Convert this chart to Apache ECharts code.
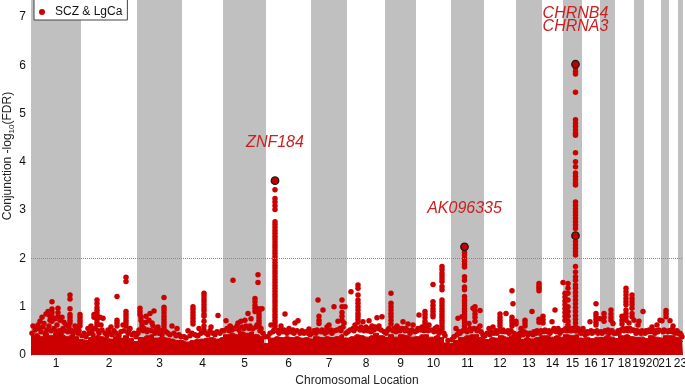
<!DOCTYPE html>
<html lang="en">
<head>
    <meta charset="UTF-8">
    <title>Conjunction Manhattan plot</title>
    <style type="text/css">
        * { margin: 0; padding: 0; }
        html, body { width: 100%; height: 100%; background: #fff; }
        #main { width: 685px; height: 384px; }
    </style>
</head>
<body>
<div id="main"></div>
<script src="https://cdn.jsdelivr.net/npm/echarts@6/dist/echarts.min.js"></script>
<script>
    var myChart = echarts.init(document.getElementById('main'));

    // chromosome widths on the genome axis (plot units)
    const chrLabels = ['1', '2', '3', '4', '5', '6', '7', '8', '9', '10', '11', '12',
        '13', '14', '15', '16', '17', '18', '19', '20', '21', '22', '23'];
    const chrLen = [50, 56, 45, 41, 43, 45, 36, 38, 31, 35, 33, 32, 26, 21, 19, 18, 15, 19, 10, 17, 8, 9, 5];

    const yTicks = [0, 1, 2, 3, 4, 5, 6, 7];
    const fdrLine = 2;

    // dense background of SNPs: top of the solid red band
    const floorPos = [0, 5, 10, 15, 20, 25, 30, 35, 40, 45, 50, 55, 60, 65, 70, 75, 80, 85, 90, 95, 100,
        105, 110, 115, 120, 125, 130, 135, 140, 145, 150, 155, 160, 165, 170, 175, 180, 185, 190, 195, 200,
        205, 210, 215, 220, 225, 230, 235, 240, 245, 250, 255, 260, 265, 270, 275, 280, 285, 290, 295, 300,
        305, 310, 315, 320, 325, 330, 335, 340, 345, 350, 355, 360, 365, 370, 375, 380, 385, 390, 395, 400,
        405, 410, 415, 420, 425, 430, 435, 440, 445, 450, 455, 460, 465, 470, 475, 480, 485, 490, 495, 500,
        505, 510, 515, 520, 525, 530, 535, 540, 545, 550, 555, 560, 565, 570, 575, 580, 585, 590, 595, 600,
        605, 610, 615, 620, 625, 630, 635, 640, 645, 650, 652];
    const floorVal = [0.4, 0.42, 0.38, 0.45, 0.4, 0.45, 0.42, 0.38, 0.42, 0.38, 0.32, 0.3, 0.36, 0.4, 0.38, 0.34, 0.33, 0.38, 0.35, 0.4, 0.34,
        0.28, 0.36, 0.4, 0.42, 0.35, 0.38, 0.35, 0.33, 0.3, 0.3, 0.27, 0.3, 0.32, 0.33, 0.35, 0.36, 0.33, 0.36, 0.42, 0.45,
        0.42, 0.48, 0.45, 0.48, 0.42, 0.38, 0.24, 0.35, 0.38, 0.36, 0.38, 0.36, 0.38, 0.35, 0.36, 0.33, 0.38, 0.36, 0.38, 0.36,
        0.38, 0.42, 0.35, 0.38, 0.42, 0.4, 0.37, 0.4, 0.45, 0.4, 0.36, 0.42, 0.37, 0.42, 0.4, 0.37, 0.38, 0.42, 0.42, 0.37,
        0.4, 0.36, 0.25, 0.24, 0.3, 0.36, 0.4, 0.42, 0.42, 0.36, 0.32, 0.36, 0.35, 0.4, 0.37, 0.4, 0.34, 0.32, 0.36, 0.33,
        0.36, 0.4, 0.4, 0.37, 0.4, 0.37, 0.42, 0.4, 0.42, 0.35, 0.37, 0.34, 0.37, 0.36, 0.4, 0.37, 0.34, 0.4, 0.42, 0.38,
        0.36, 0.37, 0.34, 0.4, 0.37, 0.35, 0.4, 0.4, 0.37, 0.33, 0.28];

    // SNPs fringing the top of the band: [position, value]
    const bandTop = [
        [1, 0.45], [4, 0.52], [6, 0.4], [8, 0.55], [10, 0.48], [12, 0.58], [14, 0.45], [16, 0.52], [18, 0.6], [20, 0.5],
        [23, 0.55], [25, 0.48], [26, 0.62], [28, 0.5], [30, 0.45], [32, 0.55], [34, 0.5], [37, 0.48], [38, 0.58], [41, 0.5],
        [42, 0.45], [45, 0.52], [47, 0.45], [48, 0.5],
        [51, 0.4], [53, 0.45], [55, 0.38], [58, 0.45], [61, 0.5], [62, 0.42], [64, 0.55], [67, 0.5], [68, 0.45], [71, 0.52],
        [74, 0.45], [76, 0.4], [78, 0.48], [81, 0.42], [83, 0.5], [85, 0.45], [88, 0.4], [90, 0.48], [93, 0.5], [97, 0.45],
        [98, 0.52], [101, 0.42], [103, 0.45], [105, 0.38],
        [107, 0.45], [108, 0.52], [112, 0.5], [113, 0.55], [116, 0.48], [117, 0.52], [120, 0.5], [124, 0.45], [125, 0.52],
        [128, 0.45], [130, 0.5], [131, 0.42], [135, 0.48], [137, 0.45], [139, 0.42], [143, 0.45], [145, 0.4], [148, 0.42],
        [150, 0.38],
        [153, 0.38], [155, 0.35], [159, 0.4], [161, 0.45], [164, 0.42], [167, 0.4], [170, 0.45], [172, 0.48], [175, 0.45],
        [177, 0.42], [179, 0.5], [182, 0.45], [184, 0.42], [186, 0.48], [189, 0.45], [191, 0.5],
        [193, 0.5], [196, 0.55], [198, 0.5], [200, 0.58], [201, 0.52], [204, 0.55], [206, 0.6], [208, 0.52], [211, 0.58],
        [213, 0.55], [215, 0.6], [218, 0.55], [219, 0.6], [222, 0.55], [225, 0.58], [229, 0.5], [230, 0.55], [232, 0.45],
        [234, 0.38],
        [237, 0.38], [239, 0.45], [242, 0.48], [243, 0.52], [246, 0.5], [248, 0.45], [249, 0.52], [252, 0.48], [253, 0.52],
        [256, 0.45], [257, 0.5], [260, 0.48], [262, 0.52], [263, 0.45], [266, 0.5], [269, 0.45], [271, 0.5], [273, 0.45],
        [275, 0.48], [277, 0.45], [279, 0.42],
        [281, 0.45], [283, 0.5], [285, 0.45], [286, 0.52], [290, 0.48], [291, 0.52], [294, 0.45], [295, 0.5], [297, 0.48],
        [300, 0.52], [301, 0.45], [304, 0.5], [306, 0.52], [309, 0.55], [310, 0.5], [312, 0.58], [315, 0.45],
        [317, 0.48], [319, 0.52], [322, 0.55], [323, 0.5], [326, 0.55], [329, 0.52], [330, 0.58], [333, 0.5], [334, 0.55],
        [337, 0.5], [339, 0.55], [340, 0.48], [343, 0.52], [344, 0.58], [347, 0.55], [348, 0.6], [350, 0.52], [353, 0.48],
        [355, 0.45], [357, 0.52], [358, 0.55], [362, 0.5], [363, 0.55], [365, 0.48], [368, 0.55], [369, 0.5], [371, 0.55],
        [374, 0.5], [375, 0.55], [378, 0.5], [379, 0.45], [381, 0.52], [384, 0.48],
        [386, 0.5], [387, 0.55], [390, 0.52], [391, 0.58], [393, 0.5], [396, 0.55], [397, 0.5], [400, 0.52], [403, 0.48],
        [404, 0.55], [407, 0.5], [408, 0.45], [410, 0.5], [413, 0.45], [414, 0.4], [417, 0.3],
        [421, 0.32], [423, 0.38], [426, 0.42], [428, 0.48], [429, 0.45], [432, 0.5], [435, 0.52], [436, 0.48], [439, 0.55],
        [440, 0.5], [443, 0.55], [446, 0.5], [447, 0.55], [450, 0.48], [452, 0.42],
        [454, 0.4], [456, 0.45], [459, 0.42], [460, 0.48], [463, 0.45], [465, 0.5], [466, 0.45], [468, 0.5], [471, 0.48],
        [472, 0.52], [474, 0.48], [477, 0.5], [478, 0.45], [480, 0.5], [483, 0.45], [484, 0.4],
        [486, 0.42], [488, 0.38], [489, 0.45], [492, 0.42], [493, 0.48], [496, 0.45], [497, 0.42], [499, 0.45], [502, 0.42],
        [503, 0.48], [505, 0.45], [506, 0.5], [509, 0.45], [510, 0.5],
        [513, 0.48], [514, 0.52], [516, 0.48], [518, 0.5], [519, 0.45], [522, 0.5], [523, 0.55], [525, 0.48], [528, 0.5],
        [529, 0.45], [531, 0.5],
        [533, 0.52], [535, 0.55], [536, 0.5], [538, 0.55], [540, 0.5], [541, 0.55], [543, 0.52], [546, 0.5], [547, 0.55],
        [549, 0.48], [550, 0.45],
        [553, 0.45], [554, 0.42], [556, 0.48], [557, 0.45], [560, 0.5], [561, 0.45], [563, 0.48], [566, 0.5], [567, 0.45],
        [570, 0.48], [571, 0.45], [574, 0.5], [575, 0.48], [577, 0.52], [578, 0.45], [581, 0.5], [583, 0.45],
        [585, 0.45], [587, 0.5], [588, 0.45], [590, 0.52], [592, 0.55], [593, 0.5], [596, 0.55], [597, 0.5], [599, 0.55],
        [600, 0.5], [602, 0.52],
        [604, 0.5], [605, 0.45], [606, 0.5], [609, 0.48], [610, 0.45], [611, 0.5], [614, 0.45], [615, 0.5], [617, 0.48],
        [618, 0.52], [620, 0.48], [622, 0.5], [624, 0.45], [625, 0.5], [627, 0.48], [628, 0.52], [632, 0.48], [633, 0.52],
        [634, 0.5], [637, 0.48], [638, 0.5], [640, 0.52], [641, 0.48], [643, 0.5], [644, 0.45], [646, 0.5], [647, 0.45],
        [649, 0.45], [650, 0.42], [651, 0.38]
    ];

    // SNPs standing out of the band: [position, [-log10 FDR values]]
    const snpColumns = [
        [2, [0.6]], [5, [0.55]], [7, [0.62]], [9, [0.7]], [11, [0.78]], [13, [0.65]], [15, [0.85]], [17, [0.9]],
        [19, [0.8, 0.72]], [21, [1.1, 0.95, 0.88, 0.8, 0.7]], [24, [0.75]], [27, [0.97, 0.88, 0.8]], [29, [0.72]],
        [31, [0.78]], [33, [0.68]], [35, [0.62]], [39, [1.24, 1.16, 0.96, 0.84, 0.78, 0.72, 0.66]], [44, [0.6]],
        [46, [0.58]], [49, [0.84, 0.78, 0.72, 0.66, 0.6]],
        [57, [0.55]], [60, [0.6]], [63, [0.84, 0.78]], [66, [1.14, 1.06, 0.98, 0.92, 0.86, 0.8, 0.74, 0.68, 0.62]],
        [69, [0.78]], [70, [0.62]], [72, [0.76]], [77, [0.52]], [80, [0.58]], [86, [1.21, 0.72, 0.66, 0.6]], [92, [0.62]],
        [95, [1.61, 1.52, 0.9, 0.84, 0.78, 0.72, 0.66, 0.6]], [99, [0.55]],
        [109, [0.97, 0.9, 0.84]], [110, [0.78, 0.72]], [111, [0.66, 0.6]], [115, [0.8, 0.68]], [118, [0.72]], [119, [0.86]],
        [121, [0.66]], [122, [0.6]], [123, [0.91]], [127, [0.58]], [133, [1.19, 0.99, 0.93, 0.87, 0.8, 0.74, 0.68, 0.62, 0.56]],
        [141, [0.6]], [146, [0.55]],
        [157, [0.5]], [162, [1.0, 0.94, 0.88, 0.82, 0.76, 0.7, 0.64]], [166, [0.4]], [168, [0.55]],
        [173, [1.28, 1.22, 1.16, 1.1, 1.04, 0.98, 0.92, 0.85, 0.8, 0.7, 0.6, 0.52]], [180, [0.58]], [187, [0.82]],
        [195, [0.71]], [199, [0.6]], [202, [1.55]], [207, [0.66]], [210, [0.7]], [214, [0.72]], [217, [0.86]], [220, [0.75]],
        [224, [1.17, 1.1, 1.03, 0.97, 0.9]], [226, [0.62]], [227, [1.66, 1.5]], [228, [0.96, 0.9, 0.84, 0.78, 0.72, 0.66, 0.6]],
        [231, [0.96]],
        [240, [0.62]],
        [244, [3.42, 3.24, 3.17, 3.09, 3.01, 2.76, 2.7, 2.64, 2.58, 2.52, 2.46, 2.4, 2.34, 2.28, 2.22, 2.16, 2.1, 2.04, 1.98,
            1.92, 1.86, 1.8, 1.74, 1.68, 1.62, 1.56, 1.5, 1.44, 1.38, 1.32, 1.26, 1.2, 1.14, 1.08, 1.02, 0.96, 0.9, 0.84,
            0.78, 0.72, 0.66, 0.6, 0.54]],
        [250, [0.6]], [254, [0.85]], [258, [0.55]], [264, [0.66]], [267, [0.71]], [278, [0.54]],
        [287, [1.14]], [288, [0.8, 0.72, 0.65]], [292, [0.93]], [296, [0.58]], [298, [0.62]], [303, [1.0]], [307, [0.7]],
        [311, [1.14, 1.0, 0.88, 0.8, 0.72]], [313, [0.66]], [314, [1.0]],
        [320, [1.31]], [324, [0.62]], [327, [1.45, 1.38, 1.24, 1.14, 1.07, 1.0, 0.93, 0.86, 0.8, 0.74, 0.68]], [332, [0.69]],
        [335, [0.58]], [338, [0.71]], [341, [0.6]], [346, [0.77]], [351, [0.79]],
        [360, [1.28, 1.07, 1.0, 0.93, 0.86, 0.79, 0.72, 0.64]], [366, [0.6]], [372, [0.69]], [377, [0.64]], [382, [0.62]],
        [388, [0.83]], [394, [0.9, 0.84, 0.77, 0.7, 0.64, 0.58]], [398, [0.62]], [402, [1.46, 1.1, 1.03, 0.96, 0.9, 0.84, 0.79]],
        [406, [0.58]],
        [411, [1.83, 1.77, 1.7, 1.64, 1.58, 1.52, 1.42, 1.35, 1.14, 1.08, 1.02, 0.96, 0.9, 0.84, 0.78, 0.72, 0.66, 0.6, 0.54]],
        [425, [0.55]], [427, [0.76]], [431, [0.79]],
        [433.5, [2.12, 2.07, 2.0, 1.94, 1.88, 1.82, 1.62, 1.55, 1.41, 1.35, 1.21, 1.14, 1.08, 1.02, 0.96, 0.9, 0.84, 0.78,
            0.72, 0.66, 0.6, 0.54]],
        [438, [0.65]], [442, [0.97]], [444, [1.0, 0.92, 0.85, 0.78, 0.7]], [449, [0.92, 0.6]],
        [458, [0.55]], [462, [0.58]], [469, [0.85, 0.78, 0.72, 0.66, 0.6]], [475, [0.86]], [481, [1.33, 0.78, 0.72, 0.66, 0.6]],
        [482, [1.06]], [485, [0.7, 0.64]],
        [490, [0.55]], [494, [0.72, 0.66, 0.6]], [501, [0.9]], [508, [1.48, 1.43, 1.38, 1.33, 0.74, 0.68]], [512, [0.8, 0.73, 0.66]],
        [521, [0.69]], [524, [0.93]], [527, [0.55]], [532, [1.5]], [534, [1.28, 1.2, 1.12, 1.04, 0.96, 0.88, 0.8, 0.72]],
        [537, [1.48, 1.38, 1.28, 1.14, 1.0, 0.9, 0.8, 0.7, 0.62]],
        [544.5, [5.94, 5.87, 5.82, 5.44, 4.87, 4.8, 4.73, 4.66, 4.59, 4.55, 4.19, 4.0, 3.9, 3.77, 3.7, 3.63, 3.56, 3.52,
            3.17, 3.1, 3.03, 2.96, 2.9, 2.83, 2.76, 2.69, 2.62, 2.35, 2.28, 2.21, 2.14, 2.07, 1.83, 1.72, 1.62, 1.55, 1.45,
            1.38, 1.3, 1.22, 1.14, 1.06, 0.98, 0.9, 0.82, 0.74, 0.66, 0.58, 0.5]],
        [552, [0.55]], [559, [0.69]], [565, [1.06, 0.86, 0.8, 0.74, 0.68, 0.62]],
        [569, [0.75]], [573, [0.86, 0.78, 0.7]], [580, [0.93, 0.85, 0.78, 0.72]], [582, [0.65]],
        [591, [0.8, 0.72, 0.64]], [595, [1.38, 1.31, 1.24, 1.17, 1.1, 1.04, 0.93, 0.86, 0.79, 0.72]], [598, [0.66]],
        [601, [1.24, 1.17, 1.1, 1.04, 0.97, 0.86, 0.79]], [603, [0.72]],
        [607, [0.62]], [608, [0.7]], [612, [0.9]], [621, [0.58]], [626, [0.62]], [629, [0.72]], [631, [0.71]],
        [635, [0.92, 0.86, 0.79]], [639, [0.71]], [642, [0.6]]
    ];

    // lead SNPs (circled) and their gene names
    const leadPos = [244, 433.5, 544.5, 544.5];
    const leadVal = [3.61, 2.24, 6.02, 2.47];
    const geneNames = ['ZNF184', 'AK096335', 'CHRNB4\nCHRNA3', ''];

    const RED = '#cc0000';
    const FONT = 'Liberation Sans, Arial, sans-serif';

    // build chromosome starts / centres
    var chrStart = [], chrCenter = [], acc = 0;
    for (var i = 0; i < chrLen.length; i++) {
        chrStart.push(acc);
        chrCenter.push(acc + chrLen[i] / 2);
        acc += chrLen[i];
    }
    var genomeLen = acc;

    var bands = [];
    for (var i = 0; i < chrLen.length; i += 2) {
        bands.push([{xAxis: chrStart[i]}, {xAxis: chrStart[i] + chrLen[i]}]);
    }

    var floorData = floorPos.map(function (p, i) { return [p, floorVal[i]]; });

    var snpData = bandTop.slice();
    snpColumns.forEach(function (col) {
        col[1].forEach(function (v) { snpData.push([col[0], v]); });
    });

    var leadData = leadPos.map(function (p, i) { return [p, leadVal[i]]; });

    var option = {
        animation: false,
        textStyle: {fontFamily: FONT},
        grid: {left: 31, right: 2, top: 0, bottom: 29, containLabel: false, outerBoundsMode: 'none'},
        legend: {
            data: ['SCZ & LgCa'],
            left: 34,
            top: -2,
            padding: [8, 5, 2, 5],
            icon: 'circle',
            itemWidth: 16,
            itemHeight: 6,
            backgroundColor: '#fff',
            borderColor: '#444',
            borderWidth: 1,
            borderRadius: 0,
            textStyle: {fontSize: 12, color: '#111', fontFamily: FONT}
        },
        xAxis: {
            type: 'value',
            min: 0,
            max: genomeLen,
            name: 'Chromosomal Location',
            nameLocation: 'middle',
            nameGap: 16,
            nameTextStyle: {fontSize: 12, color: '#222', fontFamily: FONT},
            axisLine: {show: false},
            axisTick: {show: false},
            splitLine: {show: false},
            axisLabel: {
                customValues: chrCenter,
                margin: 3,
                fontSize: 12,
                color: '#111',
                fontFamily: FONT,
                showMinLabel: true,
                showMaxLabel: true,
                hideOverlap: false,
                formatter: function (v) {
                    var k = chrCenter.indexOf(v);
                    return k >= 0 ? chrLabels[k] : '';
                }
            }
        },
        yAxis: {
            type: 'value',
            min: yTicks[0],
            max: 7.35,
            interval: 1,
            axisLine: {show: true, lineStyle: {color: '#333', width: 1}},
            axisTick: {show: false},
            splitLine: {show: false},
            axisLabel: {
                fontSize: 12,
                color: '#111',
                margin: 5,
                fontFamily: FONT,
                showMaxLabel: false,
                formatter: function (v) { return yTicks.indexOf(v) >= 0 ? String(v) : ''; }
            }
        },
        graphic: [{
            type: 'text',
            x: 8,
            y: 156,
            rotation: Math.PI / 2,
            style: {
                text: '{n|Conjunction -log}{s|10}{n|(FDR)}',
                align: 'center',
                verticalAlign: 'middle',
                fill: '#222',
                rich: {
                    n: {fontSize: 12, lineHeight: 16, fontFamily: FONT, fill: '#222', color: '#222'},
                    s: {fontSize: 8, lineHeight: 10, verticalAlign: 'bottom', fontFamily: FONT, fill: '#222', color: '#222'}
                }
            }
        }],
        series: [
            {
                name: 'bands',
                type: 'line',
                data: [],
                z: 1,
                silent: true,
                markArea: {
                    silent: true,
                    itemStyle: {color: '#c0c0c0'},
                    data: bands
                }
            },
            {
                name: 'floor',
                type: 'line',
                step: 'middle',
                data: floorData,
                symbol: 'none',
                z: 2,
                silent: true,
                lineStyle: {color: RED, width: 1},
                areaStyle: {color: RED, opacity: 1},
                markLine: {
                    silent: true,
                    symbol: 'none',
                    label: {show: false},
                    lineStyle: {color: '#888', type: 'dotted', width: 1},
                    data: [{yAxis: fdrLine}]
                }
            },
            {
                name: 'SCZ & LgCa',
                type: 'scatter',
                data: snpData,
                symbolSize: 5.5,
                z: 3,
                itemStyle: {color: RED, opacity: 1}
            },
            {
                name: 'lead',
                type: 'scatter',
                data: leadData,
                symbolSize: 7.5,
                z: 4,
                itemStyle: {color: '#c00000', borderColor: '#1a1a1a', borderWidth: 1.3, opacity: 1},
                label: {
                    show: true,
                    position: 'top',
                    distance: 27,
                    color: '#cc2020',
                    fontSize: 16,
                    fontStyle: 'italic',
                    fontFamily: FONT,
                    lineHeight: 13,
                    formatter: function (p) { return geneNames[p.dataIndex]; }
                }
            }
        ]
    };

    myChart.setOption(option);
    window.onresize = () => {
        myChart.resize();
    }
</script>
</body>
</html>
